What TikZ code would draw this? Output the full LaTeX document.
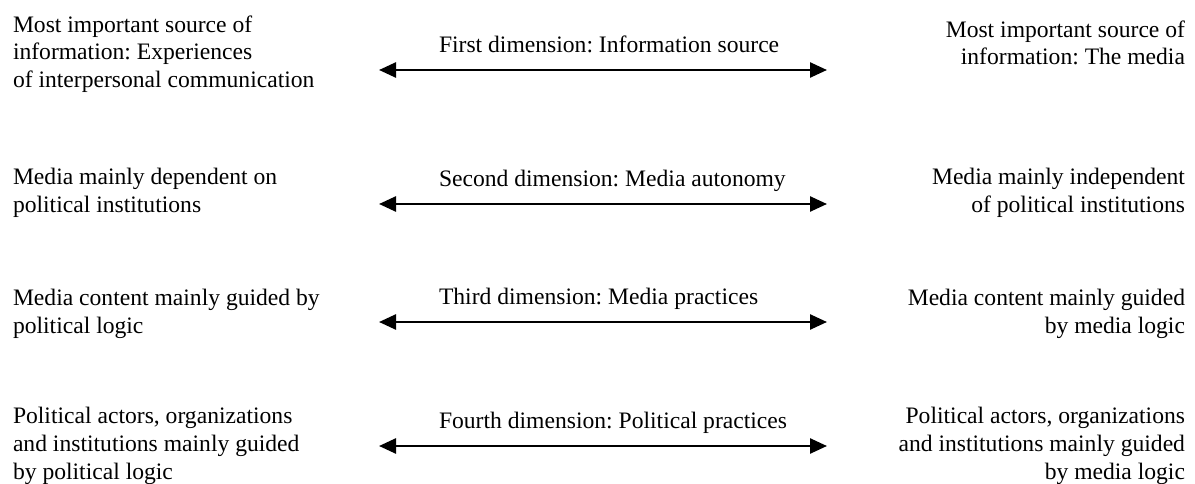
\documentclass[tikz,border=0pt]{standalone}
\usepackage{fontspec}
\setmainfont{Liberation Serif}
\usetikzlibrary{arrows.meta}
\frenchspacing

\begin{document}
\begin{tikzpicture}[x=1pt, y=-1pt,
  every node/.style={inner sep=0pt, outer sep=0pt,
    font=\fontsize{23.6pt}{27.6pt}\selectfont},
  % multi-line texts are placed by the baseline of their last line
  leftpole/.style={anchor=base west, align=left},
  rightpole/.style={anchor=base east, align=right},
  dimlabel/.style={anchor=base west},
  dimarrow/.style={line width=2.5pt,
    {Triangle[length=17pt,width=15pt]}-{Triangle[length=17pt,width=15pt]}}
]
\useasboundingbox (0,0) rectangle (1195,484);

% first dimension
\node[leftpole]  (l1) at (13,87.5) {Most important source of\\information: Experiences\\of interpersonal communication};
\node[rightpole] (r1) at (1185,65) {Most important source of\\information: The media};
\node[dimlabel]  (d1) at (439,53) {First dimension: Information source};
\coordinate (a1l) at (379,70);
\coordinate (a1r) at (827,70);
\draw[dimarrow] (a1l) -- (a1r);

% second dimension
\node[leftpole]  (l2) at (13,212.5) {Media mainly dependent on\\political institutions};
\node[rightpole] (r2) at (1185,212) {Media mainly independent\\of political institutions};
\node[dimlabel]  (d2) at (439,186.5) {Second dimension: Media autonomy};
\coordinate (a2l) at (379,204);
\coordinate (a2r) at (827,204);
\draw[dimarrow] (a2l) -- (a2r);

% third dimension
\node[leftpole]  (l3) at (13,333) {Media content mainly guided by\\political logic};
\node[rightpole] (r3) at (1185,333) {Media content mainly guided\\by media logic};
\node[dimlabel]  (d3) at (439,304.5) {Third dimension: Media practices};
\coordinate (a3l) at (379,322);
\coordinate (a3r) at (827,322);
\draw[dimarrow] (a3l) -- (a3r);

% fourth dimension
\node[leftpole]  (l4) at (13,479) {Political actors, organizations\\and institutions mainly guided\\by political logic};
\node[rightpole] (r4) at (1185,479) {Political actors, organizations\\and institutions mainly guided\\by media logic};
\node[dimlabel]  (d4) at (439,428) {Fourth dimension: Political practices};
\coordinate (a4l) at (379,446);
\coordinate (a4r) at (827,446);
\draw[dimarrow] (a4l) -- (a4r);
\end{tikzpicture}
\end{document}
